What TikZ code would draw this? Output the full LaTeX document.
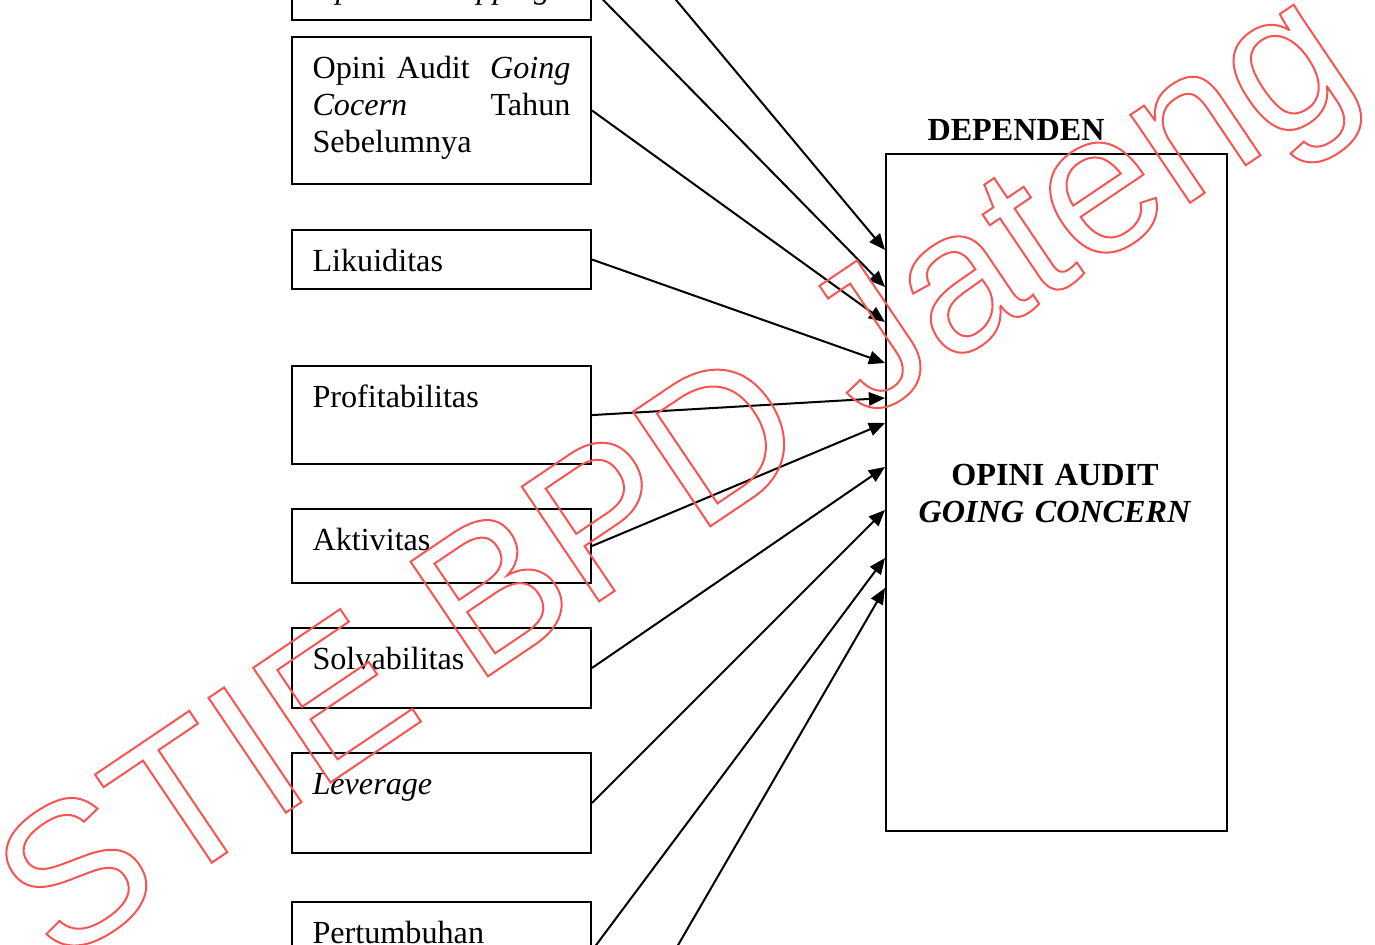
\documentclass[tikz,border=0pt]{standalone}
\usepackage{fontspec}
\setmainfont{Liberation Serif}
\newfontfamily\markfont{Liberation Sans}
\usetikzlibrary{arrows.meta}

\definecolor{stempel}{RGB}{245,85,85}
% outlined (stroked) glyphs for the stamp
\newcommand\hollow[1]{\special{pdf:literal direct 1 Tr 0.75 w}#1\special{pdf:literal direct 0 Tr}}
\AtBeginDocument{\fontsize{12}{13.8}\selectfont}

\tikzset{
  var/.style={draw, line width=0.75pt, anchor=north west, inner xsep=7.65pt, inner ysep=0pt,
    text width=96.2pt, align=left, text height=15.3pt, text depth=#1},
  pijl/.style={-{Triangle[length=6pt,width=5pt]}, line width=0.75pt}
}

\begin{document}
\begin{tikzpicture}[x=0.0131cm, y=-0.0131cm]
\useasboundingbox (0,0) rectangle (1375,945);
\clip (0,0) rectangle (1375,945);

% independent variables
\node[var=8.2pt, font=\itshape] (shopping) at (291,-44) {Opinion Shopping};
\node[var=39.5pt] (gcprev) at (291,36) {Opini Audit \hfill\textit{Going}\\ \textit{Cocern} \hfill Tahun\\ Sebelumnya};
\node[var=6.7pt] (likuid) at (291,229) {Likuiditas};
\node[var=21.3pt] (profit) at (291,365) {Profitabilitas};
\node[var=12.3pt] (aktiv) at (291,508) {Aktivitas};
\node[var=14.5pt] (solva) at (291,627) {Solvabilitas};
\node[var=22pt, font=\itshape] (lever) at (291,752) {Leverage};
\node[var=20.9pt] (tumbuh) at (291,901) {Pertumbuhan};
\coordinate (atas) at (590,-103);
\coordinate (bawah) at (590,1097);

% dependent variable
\node[font=\bfseries, anchor=base west, inner sep=0] (deplabel) at (927,140) {DEPENDEN};
\node[draw, line width=0.75pt, anchor=north west, minimum width=127.2pt, minimum height=252.5pt, inner sep=0] (dep) at (885,153) {};
\node[font=\bfseries, text width=120pt, align=center, anchor=base, inner sep=0] (opini) at (1055,485) {OPINI AUDIT\\ \textit{GOING CONCERN}};

\path[pijl] (atas) edge (dep.west |- 0,250)
        (shopping.east) edge (dep.west |- 0,287)
        (gcprev.east) edge (dep.west |- 0,322)
        (likuid.east) edge (dep.west |- 0,363)
        (profit.east) edge (dep.west |- 0,398)
        (aktiv.east) edge (dep.west |- 0,423)
        (solva.east) edge (dep.west |- 0,467)
        (lever.east) edge (dep.west |- 0,510)
        (tumbuh.east) edge (dep.west |- 0,558)
        (bawah) edge (dep.west |- 0,588);

% stamp
\node[anchor=base west, rotate=34, inner sep=0, text=stempel, font=\markfont\fontsize{75}{75}\selectfont] (stamp) at (57,967) {\hollow{STIE BPD Jateng}};
\end{tikzpicture}
\end{document}
